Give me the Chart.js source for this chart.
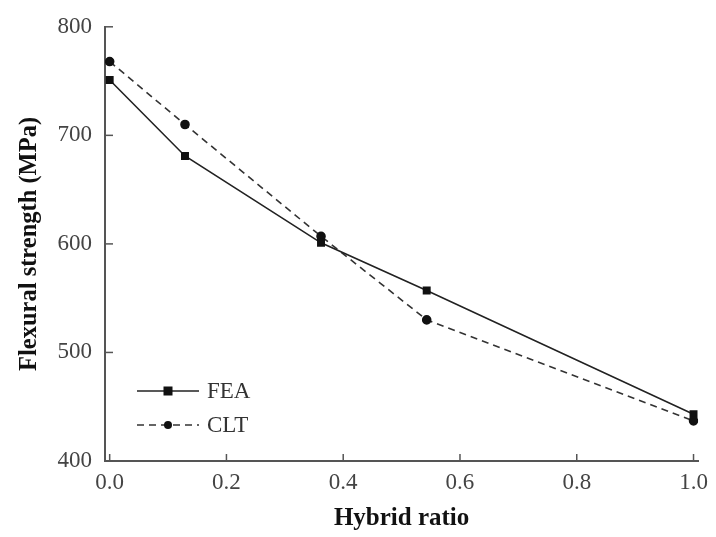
<!DOCTYPE html>
<html>
<head>
<meta charset="utf-8">
<script src="https://cdn.jsdelivr.net/npm/chart.js@4/dist/chart.umd.min.js"></script>
<style>
  html, body { margin: 0; padding: 0; background: #fff; }
  #wrap { width: 716px; height: 537px; position: relative; }
</style>
</head>
<body>
<div id="wrap"><canvas id="chart"></canvas></div>
<script>
// data
const hybridRatio = [0, 0.129, 0.362, 0.543, 1.0];
const feaStrength = [751, 681, 601, 557, 443];
const cltStrength = [768, 710, 607, 530, 437];
const xTicks = [0, 0.2, 0.4, 0.6, 0.8, 1.0];
const yTicks = [400, 500, 600, 700, 800];

const serif = "'Liberation Serif', 'DejaVu Serif', serif";
const axisColor = "#555";

// ticks point into the plot, so draw them by hand
const innerTicks = {
  id: "innerTicks",
  afterDraw(chart) {
    const { ctx, chartArea, scales } = chart;
    ctx.save();
    ctx.strokeStyle = axisColor;
    ctx.lineWidth = 1.5;
    scales.x.ticks.forEach((t) => {
      const px = scales.x.getPixelForValue(t.value);
      ctx.beginPath();
      ctx.moveTo(px, chartArea.bottom);
      ctx.lineTo(px, chartArea.bottom - 7);
      ctx.stroke();
    });
    scales.y.ticks.forEach((t) => {
      const py = scales.y.getPixelForValue(t.value);
      ctx.beginPath();
      ctx.moveTo(chartArea.left, py);
      ctx.lineTo(chartArea.left + 8, py);
      ctx.stroke();
    });
    ctx.restore();
  },
};

// legend with line + marker, sitting inside the plot bottom-left
const lineLegend = {
  id: "lineLegend",
  afterDraw(chart) {
    const { ctx, chartArea } = chart;
    const x0 = chartArea.left + 32;
    const x1 = x0 + 62;
    chart.data.datasets.forEach((ds, i) => {
      const y = chartArea.bottom - 70 + i * 34;
      ctx.save();
      ctx.strokeStyle = ds.borderColor;
      ctx.lineWidth = ds.borderWidth;
      ctx.setLineDash(ds.borderDash || []);
      ctx.beginPath();
      ctx.moveTo(x0, y);
      ctx.lineTo(x1, y);
      ctx.stroke();
      ctx.setLineDash([]);
      ctx.fillStyle = ds.pointBackgroundColor;
      const mx = (x0 + x1) / 2;
      if (ds.pointStyle === "rect") {
        ctx.fillRect(mx - 4.5, y - 4.5, 9, 9);
      } else {
        ctx.beginPath();
        ctx.arc(mx, y, 4, 0, Math.PI * 2);
        ctx.fill();
      }
      ctx.fillStyle = "#333";
      ctx.font = "23px " + serif;
      ctx.textBaseline = "middle";
      ctx.fillText(ds.label, x1 + 8, y + 1);
      ctx.restore();
    });
  },
};

new Chart(document.getElementById("chart"), {
  type: "line",
  data: {
    datasets: [
      {
        label: "FEA",
        data: hybridRatio.map((x, i) => ({ x, y: feaStrength[i] })),
        borderColor: "#222",
        borderWidth: 1.6,
        pointStyle: "rect",
        pointRadius: 4.5,
        pointBackgroundColor: "#111",
        pointBorderColor: "#111",
        tension: 0,
      },
      {
        label: "CLT",
        data: hybridRatio.map((x, i) => ({ x, y: cltStrength[i] })),
        borderColor: "#333",
        borderWidth: 1.6,
        borderDash: [7, 5],
        pointStyle: "circle",
        pointRadius: 4,
        pointBackgroundColor: "#111",
        pointBorderColor: "#111",
        tension: 0,
      },
    ],
  },
  options: {
    responsive: true,
    maintainAspectRatio: false,
    animation: false,
    layout: { padding: { top: 20, right: 13, bottom: 0, left: 0 } },
    plugins: {
      legend: { display: false },
      tooltip: { enabled: false },
    },
    scales: {
      x: {
        type: "linear",
        min: -0.008,
        max: 1.008,
        afterBuildTicks: (s) => { s.ticks = xTicks.map((v) => ({ value: v })); },
        afterFit: (s) => { s.height = 76; },
        grid: { display: false, drawTicks: false },
        border: { display: true, color: axisColor, width: 2 },
        ticks: {
          padding: 8,
          color: "#444",
          font: { family: serif, size: 23 },
          callback: (v) => Number(v).toFixed(1),
        },
        title: {
          display: true,
          text: "Hybrid ratio",
          color: "#111",
          font: { family: serif, size: 25, weight: "bold" },
          padding: { top: 0, bottom: 3 },
        },
      },
      y: {
        min: 400,
        max: 800,
        afterBuildTicks: (s) => { s.ticks = yTicks.map((v) => ({ value: v })); },
        afterFit: (s) => { s.width = 105; },
        grid: { display: false, drawTicks: false },
        border: { display: true, color: axisColor, width: 2 },
        ticks: {
          padding: 13,
          color: "#444",
          font: { family: serif, size: 23 },
        },
        title: {
          display: true,
          text: "Flexural strength (MPa)",
          color: "#111",
          font: { family: serif, size: 24.5, weight: "bold" },
          padding: { top: 15, bottom: 0 },
        },
      },
    },
  },
  plugins: [innerTicks, lineLegend],
});
</script>
</body>
</html>
